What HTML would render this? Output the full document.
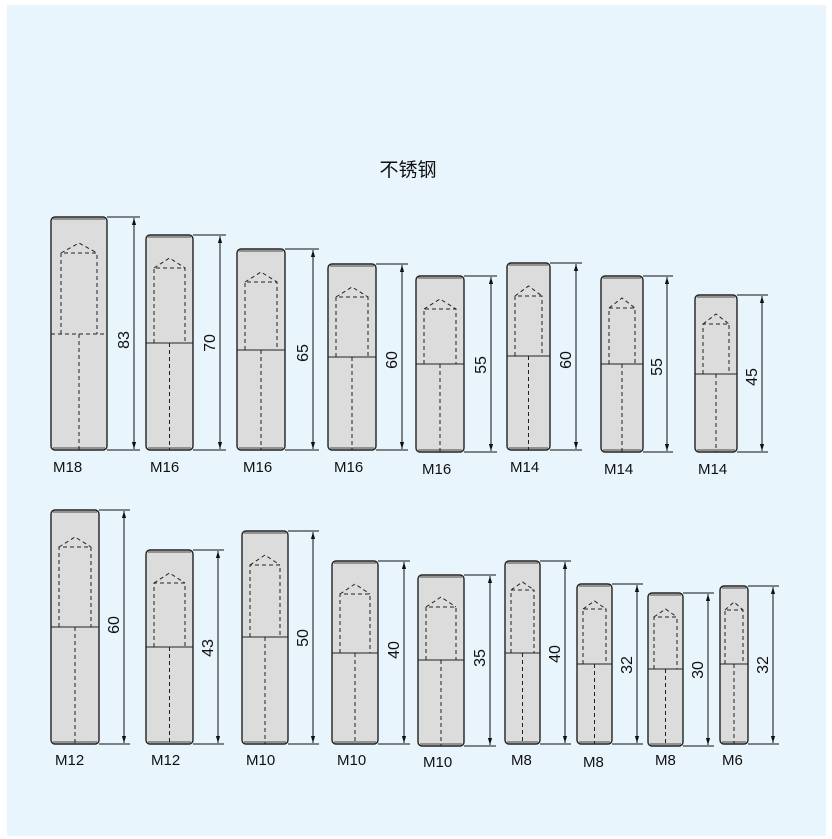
<!DOCTYPE html>
<html><head><meta charset="utf-8"><style>
html,body{margin:0;padding:0;background:#fff;}
svg{display:block;}
text{font-family:"Liberation Sans","Noto Sans CJK SC",sans-serif;fill:#111;}
line[stroke-width="2"]{stroke-width:1.2;stroke:#666;}
g[stroke-width="0.8"]{stroke-width:1;stroke:#111;}
</style></head><body>
<svg width="832" height="839" viewBox="0 0 832 839" xmlns="http://www.w3.org/2000/svg">
<defs>
<marker id="a" viewBox="0 0 10 10" refX="10" refY="5" markerWidth="7" markerHeight="7" orient="auto-start-reverse"><path d="M0,2 L10,5 L0,8 z" fill="#111"/></marker>
</defs>
<rect x="7" y="5" width="819" height="831" fill="#e8f5fd"/>
<text x="408" y="176" font-size="19" text-anchor="middle">不锈钢</text>
<g stroke="#222" fill="none">
<rect x="51" y="217" width="56" height="233" rx="4" fill="#dcdcdc" stroke-width="1.4"/>
<line x1="53" y1="219" x2="105" y2="219" stroke-width="2"/><line x1="53" y1="448" x2="105" y2="448" stroke-width="2"/>
<g stroke-dasharray="4,3" stroke-width="1"><path d="M61,334 V253 H97 V334 M61,253 L79,243 L97,253"/><line x1="79" y1="334" x2="79" y2="450"/><line x1="51" y1="334" x2="107" y2="334"/></g>
<g stroke-width="0.8"><line x1="107" y1="217" x2="140" y2="217"/><line x1="107" y1="450" x2="140" y2="450"/><line x1="134" y1="218" x2="134" y2="449" marker-start="url(#a)" marker-end="url(#a)"/></g>

<rect x="146" y="235" width="47" height="215" rx="4" fill="#dcdcdc" stroke-width="1.4"/>
<line x1="148" y1="237" x2="191" y2="237" stroke-width="2"/><line x1="148" y1="448" x2="191" y2="448" stroke-width="2"/>
<g stroke-dasharray="4,3" stroke-width="1"><path d="M154,343 V268 H185 V343 M154,268 L169.5,258 L185,268"/><line x1="169.5" y1="343" x2="169.5" y2="450"/></g><line x1="146" y1="343" x2="193" y2="343" stroke-width="1"/>
<g stroke-width="0.8"><line x1="193" y1="235" x2="226" y2="235"/><line x1="193" y1="450" x2="226" y2="450"/><line x1="220" y1="236" x2="220" y2="449" marker-start="url(#a)" marker-end="url(#a)"/></g>

<rect x="237" y="249" width="48" height="201" rx="4" fill="#dcdcdc" stroke-width="1.4"/>
<line x1="239" y1="251" x2="283" y2="251" stroke-width="2"/><line x1="239" y1="448" x2="283" y2="448" stroke-width="2"/>
<g stroke-dasharray="4,3" stroke-width="1"><path d="M245,350 V282 H277 V350 M245,282 L261,272 L277,282"/><line x1="261" y1="350" x2="261" y2="450"/></g><line x1="237" y1="350" x2="285" y2="350" stroke-width="1"/>
<g stroke-width="0.8"><line x1="285" y1="249" x2="319" y2="249"/><line x1="285" y1="450" x2="319" y2="450"/><line x1="313" y1="250" x2="313" y2="449" marker-start="url(#a)" marker-end="url(#a)"/></g>

<rect x="328" y="264" width="48" height="186" rx="4" fill="#dcdcdc" stroke-width="1.4"/>
<line x1="330" y1="266" x2="374" y2="266" stroke-width="2"/><line x1="330" y1="448" x2="374" y2="448" stroke-width="2"/>
<g stroke-dasharray="4,3" stroke-width="1"><path d="M336,357 V297 H368 V357 M336,297 L352,287 L368,297"/><line x1="352" y1="357" x2="352" y2="450"/></g><line x1="328" y1="357" x2="376" y2="357" stroke-width="1"/>
<g stroke-width="0.8"><line x1="376" y1="264" x2="408" y2="264"/><line x1="376" y1="450" x2="408" y2="450"/><line x1="402" y1="265" x2="402" y2="449" marker-start="url(#a)" marker-end="url(#a)"/></g>

<rect x="416" y="276" width="48" height="176" rx="4" fill="#dcdcdc" stroke-width="1.4"/>
<line x1="418" y1="278" x2="462" y2="278" stroke-width="2"/><line x1="418" y1="450" x2="462" y2="450" stroke-width="2"/>
<g stroke-dasharray="4,3" stroke-width="1"><path d="M424,364 V309 H456 V364 M424,309 L440,299 L456,309"/><line x1="440" y1="364" x2="440" y2="452"/></g><line x1="416" y1="364" x2="464" y2="364" stroke-width="1"/>
<g stroke-width="0.8"><line x1="464" y1="276" x2="497" y2="276"/><line x1="464" y1="452" x2="497" y2="452"/><line x1="491" y1="277" x2="491" y2="451" marker-start="url(#a)" marker-end="url(#a)"/></g>

<rect x="507" y="263" width="43" height="187" rx="4" fill="#dcdcdc" stroke-width="1.4"/>
<line x1="509" y1="265" x2="548" y2="265" stroke-width="2"/><line x1="509" y1="448" x2="548" y2="448" stroke-width="2"/>
<g stroke-dasharray="4,3" stroke-width="1"><path d="M515,356 V296 H542 V356 M515,296 L528.5,286 L542,296"/><line x1="528.5" y1="356" x2="528.5" y2="450"/></g><line x1="507" y1="356" x2="550" y2="356" stroke-width="1"/>
<g stroke-width="0.8"><line x1="550" y1="263" x2="582" y2="263"/><line x1="550" y1="450" x2="582" y2="450"/><line x1="576" y1="264" x2="576" y2="449" marker-start="url(#a)" marker-end="url(#a)"/></g>

<rect x="601" y="276" width="42" height="176" rx="4" fill="#dcdcdc" stroke-width="1.4"/>
<line x1="603" y1="278" x2="641" y2="278" stroke-width="2"/><line x1="603" y1="450" x2="641" y2="450" stroke-width="2"/>
<g stroke-dasharray="4,3" stroke-width="1"><path d="M609,364 V308 H635 V364 M609,308 L622,298 L635,308"/><line x1="622" y1="364" x2="622" y2="452"/></g><line x1="601" y1="364" x2="643" y2="364" stroke-width="1"/>
<g stroke-width="0.8"><line x1="643" y1="276" x2="673" y2="276"/><line x1="643" y1="452" x2="673" y2="452"/><line x1="667" y1="277" x2="667" y2="451" marker-start="url(#a)" marker-end="url(#a)"/></g>

<rect x="695" y="295" width="42" height="157" rx="4" fill="#dcdcdc" stroke-width="1.4"/>
<line x1="697" y1="297" x2="735" y2="297" stroke-width="2"/><line x1="697" y1="450" x2="735" y2="450" stroke-width="2"/>
<g stroke-dasharray="4,3" stroke-width="1"><path d="M703,374 V324 H729 V374 M703,324 L716,314 L729,324"/><line x1="716" y1="374" x2="716" y2="452"/></g><line x1="695" y1="374" x2="737" y2="374" stroke-width="1"/>
<g stroke-width="0.8"><line x1="737" y1="295" x2="768" y2="295"/><line x1="737" y1="452" x2="768" y2="452"/><line x1="762" y1="296" x2="762" y2="451" marker-start="url(#a)" marker-end="url(#a)"/></g>

<rect x="51" y="510" width="48" height="234" rx="4" fill="#dcdcdc" stroke-width="1.4"/>
<line x1="53" y1="512" x2="97" y2="512" stroke-width="2"/><line x1="53" y1="742" x2="97" y2="742" stroke-width="2"/>
<g stroke-dasharray="4,3" stroke-width="1"><path d="M59,627 V547 H91 V627 M59,547 L75,537 L91,547"/><line x1="75" y1="627" x2="75" y2="744"/></g><line x1="51" y1="627" x2="99" y2="627" stroke-width="1"/>
<g stroke-width="0.8"><line x1="99" y1="510" x2="130" y2="510"/><line x1="99" y1="744" x2="130" y2="744"/><line x1="124" y1="511" x2="124" y2="743" marker-start="url(#a)" marker-end="url(#a)"/></g>

<rect x="146" y="550" width="47" height="194" rx="4" fill="#dcdcdc" stroke-width="1.4"/>
<line x1="148" y1="552" x2="191" y2="552" stroke-width="2"/><line x1="148" y1="742" x2="191" y2="742" stroke-width="2"/>
<g stroke-dasharray="4,3" stroke-width="1"><path d="M154,647 V583 H185 V647 M154,583 L169.5,573 L185,583"/><line x1="169.5" y1="647" x2="169.5" y2="744"/></g><line x1="146" y1="647" x2="193" y2="647" stroke-width="1"/>
<g stroke-width="0.8"><line x1="193" y1="550" x2="224" y2="550"/><line x1="193" y1="744" x2="224" y2="744"/><line x1="218" y1="551" x2="218" y2="743" marker-start="url(#a)" marker-end="url(#a)"/></g>

<rect x="242" y="531" width="46" height="213" rx="4" fill="#dcdcdc" stroke-width="1.4"/>
<line x1="244" y1="533" x2="286" y2="533" stroke-width="2"/><line x1="244" y1="742" x2="286" y2="742" stroke-width="2"/>
<g stroke-dasharray="4,3" stroke-width="1"><path d="M250,637 V565 H280 V637 M250,565 L265,555 L280,565"/><line x1="265" y1="637" x2="265" y2="744"/></g><line x1="242" y1="637" x2="288" y2="637" stroke-width="1"/>
<g stroke-width="0.8"><line x1="288" y1="531" x2="319" y2="531"/><line x1="288" y1="744" x2="319" y2="744"/><line x1="313" y1="532" x2="313" y2="743" marker-start="url(#a)" marker-end="url(#a)"/></g>

<rect x="332" y="561" width="46" height="183" rx="4" fill="#dcdcdc" stroke-width="1.4"/>
<line x1="334" y1="563" x2="376" y2="563" stroke-width="2"/><line x1="334" y1="742" x2="376" y2="742" stroke-width="2"/>
<g stroke-dasharray="4,3" stroke-width="1"><path d="M340,653 V594 H370 V653 M340,594 L355,584 L370,594"/><line x1="355" y1="653" x2="355" y2="744"/></g><line x1="332" y1="653" x2="378" y2="653" stroke-width="1"/>
<g stroke-width="0.8"><line x1="378" y1="561" x2="410" y2="561"/><line x1="378" y1="744" x2="410" y2="744"/><line x1="404" y1="562" x2="404" y2="743" marker-start="url(#a)" marker-end="url(#a)"/></g>

<rect x="418" y="575" width="46" height="171" rx="4" fill="#dcdcdc" stroke-width="1.4"/>
<line x1="420" y1="577" x2="462" y2="577" stroke-width="2"/><line x1="420" y1="744" x2="462" y2="744" stroke-width="2"/>
<g stroke-dasharray="4,3" stroke-width="1"><path d="M426,660 V607 H456 V660 M426,607 L441,597 L456,607"/><line x1="441" y1="660" x2="441" y2="746"/></g><line x1="418" y1="660" x2="464" y2="660" stroke-width="1"/>
<g stroke-width="0.8"><line x1="464" y1="575" x2="496" y2="575"/><line x1="464" y1="746" x2="496" y2="746"/><line x1="490" y1="576" x2="490" y2="745" marker-start="url(#a)" marker-end="url(#a)"/></g>

<rect x="505" y="561" width="35" height="183" rx="4" fill="#dcdcdc" stroke-width="1.4"/>
<line x1="507" y1="563" x2="538" y2="563" stroke-width="2"/><line x1="507" y1="742" x2="538" y2="742" stroke-width="2"/>
<g stroke-dasharray="4,3" stroke-width="1"><path d="M511,653 V590 H534 V653 M511,590 L522.5,582 L534,590"/><line x1="522.5" y1="653" x2="522.5" y2="744"/></g><line x1="505" y1="653" x2="540" y2="653" stroke-width="1"/>
<g stroke-width="0.8"><line x1="540" y1="561" x2="571" y2="561"/><line x1="540" y1="744" x2="571" y2="744"/><line x1="565" y1="562" x2="565" y2="743" marker-start="url(#a)" marker-end="url(#a)"/></g>

<rect x="577" y="584" width="35" height="160" rx="4" fill="#dcdcdc" stroke-width="1.4"/>
<line x1="579" y1="586" x2="610" y2="586" stroke-width="2"/><line x1="579" y1="742" x2="610" y2="742" stroke-width="2"/>
<g stroke-dasharray="4,3" stroke-width="1"><path d="M583,664 V609 H606 V664 M583,609 L594.5,601 L606,609"/><line x1="594.5" y1="664" x2="594.5" y2="744"/></g><line x1="577" y1="664" x2="612" y2="664" stroke-width="1"/>
<g stroke-width="0.8"><line x1="612" y1="584" x2="643" y2="584"/><line x1="612" y1="744" x2="643" y2="744"/><line x1="637" y1="585" x2="637" y2="743" marker-start="url(#a)" marker-end="url(#a)"/></g>

<rect x="648" y="593" width="35" height="153" rx="4" fill="#dcdcdc" stroke-width="1.4"/>
<line x1="650" y1="595" x2="681" y2="595" stroke-width="2"/><line x1="650" y1="744" x2="681" y2="744" stroke-width="2"/>
<g stroke-dasharray="4,3" stroke-width="1"><path d="M654,669 V617 H677 V669 M654,617 L665.5,609 L677,617"/><line x1="665.5" y1="669" x2="665.5" y2="746"/></g><line x1="648" y1="669" x2="683" y2="669" stroke-width="1"/>
<g stroke-width="0.8"><line x1="683" y1="593" x2="714" y2="593"/><line x1="683" y1="746" x2="714" y2="746"/><line x1="708" y1="594" x2="708" y2="745" marker-start="url(#a)" marker-end="url(#a)"/></g>

<rect x="720" y="586" width="28" height="158" rx="4" fill="#dcdcdc" stroke-width="1.4"/>
<line x1="722" y1="588" x2="746" y2="588" stroke-width="2"/><line x1="722" y1="742" x2="746" y2="742" stroke-width="2"/>
<g stroke-dasharray="4,3" stroke-width="1"><path d="M725,664 V610 H743 V664 M725,610 L734,602 L743,610"/><line x1="734" y1="664" x2="734" y2="744"/></g><line x1="720" y1="664" x2="748" y2="664" stroke-width="1"/>
<g stroke-width="0.8"><line x1="748" y1="586" x2="779" y2="586"/><line x1="748" y1="744" x2="779" y2="744"/><line x1="773" y1="587" x2="773" y2="743" marker-start="url(#a)" marker-end="url(#a)"/></g>
</g>

<g font-size="16">
<text transform="translate(129,340) rotate(-90)" text-anchor="middle">83</text>
<text transform="translate(215,343) rotate(-90)" text-anchor="middle">70</text>
<text transform="translate(308,353) rotate(-90)" text-anchor="middle">65</text>
<text transform="translate(397,360) rotate(-90)" text-anchor="middle">60</text>
<text transform="translate(486,365) rotate(-90)" text-anchor="middle">55</text>
<text transform="translate(571,360) rotate(-90)" text-anchor="middle">60</text>
<text transform="translate(662,367) rotate(-90)" text-anchor="middle">55</text>
<text transform="translate(757,377) rotate(-90)" text-anchor="middle">45</text>
<text transform="translate(119,625) rotate(-90)" text-anchor="middle">60</text>
<text transform="translate(213,648) rotate(-90)" text-anchor="middle">43</text>
<text transform="translate(308,638) rotate(-90)" text-anchor="middle">50</text>
<text transform="translate(399,650) rotate(-90)" text-anchor="middle">40</text>
<text transform="translate(485,658) rotate(-90)" text-anchor="middle">35</text>
<text transform="translate(560,654) rotate(-90)" text-anchor="middle">40</text>
<text transform="translate(632,665) rotate(-90)" text-anchor="middle">32</text>
<text transform="translate(703,670) rotate(-90)" text-anchor="middle">30</text>
<text transform="translate(768,665) rotate(-90)" text-anchor="middle">32</text>
</g>
<g font-size="15">
<text x="53" y="472">M18</text>
<text x="150" y="472">M16</text>
<text x="243" y="472">M16</text>
<text x="334" y="472">M16</text>
<text x="422" y="474">M16</text>
<text x="510" y="472">M14</text>
<text x="604" y="474">M14</text>
<text x="698" y="474">M14</text>
<text x="55" y="765">M12</text>
<text x="151" y="765">M12</text>
<text x="246" y="765">M10</text>
<text x="337" y="765">M10</text>
<text x="423" y="767">M10</text>
<text x="511" y="765">M8</text>
<text x="583" y="767">M8</text>
<text x="655" y="765">M8</text>
<text x="722" y="765">M6</text>
</g>
</svg>
</body></html>
